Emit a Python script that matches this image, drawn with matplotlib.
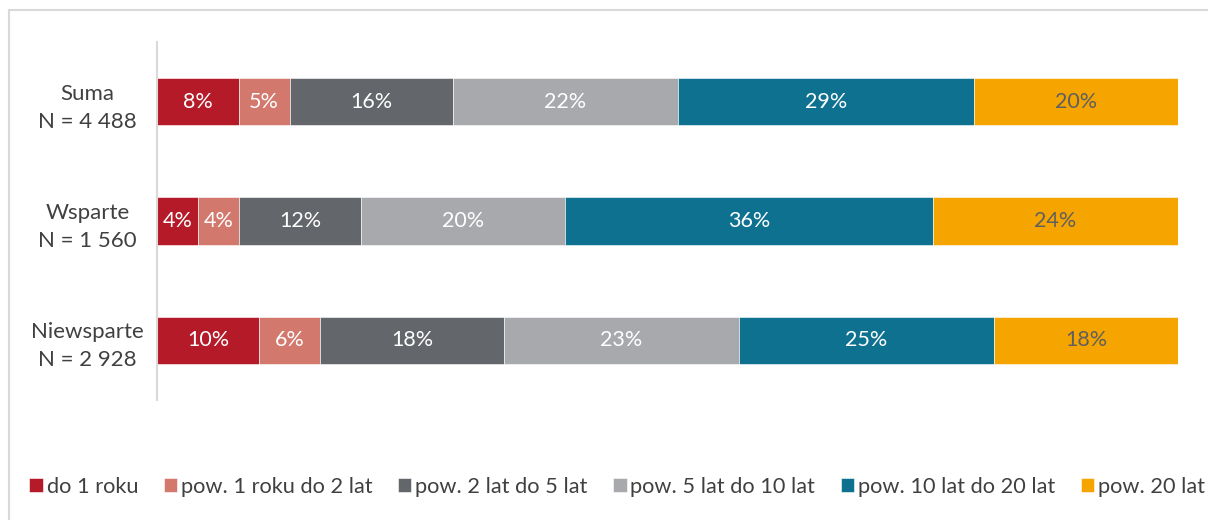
import matplotlib.pyplot as plt
import matplotlib.patches as mpatches
import numpy as np

plt.rcParams['font.family'] = ['Lato', 'DejaVu Sans']

groups = ['Suma\nN = 4 488', 'Wsparte\nN = 1 560', 'Niewsparte\nN = 2 928']
categories = ['do 1 roku', 'pow. 1 roku do 2 lat', 'pow. 2 lat do 5 lat',
              'pow. 5 lat do 10 lat', 'pow. 10 lat do 20 lat', 'pow. 20 lat']
values = np.array([
    [8, 5, 16, 22, 29, 20],
    [4, 4, 12, 20, 36, 24],
    [10, 6, 18, 23, 25, 18],
])
colors = ['#B41A28', '#D3786D', '#63666A', '#A7A9AC', '#0E7190', '#F6A500']
text_colors = ['white', 'white', 'white', 'white', 'white', '#5F5F5F']


def main():
    fig = plt.figure(figsize=(12.08, 5.2), dpi=100)
    ax = fig.add_axes([157 / 1208, 1 - 400 / 520, 1021 / 1208, 358 / 520])

    y = np.arange(len(groups))
    left = np.zeros(len(groups))
    for j, cat in enumerate(categories):
        bars = ax.barh(y, values[:, j], left=left, height=0.395, color=colors[j],
                       label=cat, edgecolor='white', linewidth=0.4)
        for k, b in enumerate(bars):
            ax.text(left[k] + values[k, j] / 2, y[k], f'{values[k, j]}%',
                    ha='center', va='center', fontsize=15.5, color=text_colors[j])
        left += values[:, j]

    ax.set_xlim(0, 100)
    ax.set_ylim(len(groups) - 0.5, -0.5)
    ax.set_yticks(y)
    ax.set_yticklabels(groups, fontsize=16, color='#404040', ha='center',
                       linespacing=1.5)
    ax.tick_params(axis='y', length=0, pad=50)
    ax.set_xticks([])
    for s in ['top', 'right', 'bottom']:
        ax.spines[s].set_visible(False)
    ax.spines['left'].set_color('#D9D9D9')
    ax.spines['left'].set_linewidth(1.5)

    # outer frame, only its top and left edges fall inside the image
    frame = mpatches.Rectangle((9 / 1208, -0.5), 1.5, 1 - 10 / 520 + 0.5,
                               transform=fig.transFigure, fill=False,
                               edgecolor='#D9D9D9', linewidth=1.5)
    fig.patches.append(frame)

    handles, labels = ax.get_legend_handles_labels()
    fig.legend(handles, labels, loc='center left', bbox_to_anchor=(14 / 1208, 1 - 487 / 520),
               ncol=6, frameon=False, fontsize=15.7, handlelength=0.62, handleheight=0.62,
               handletextpad=0.18, columnspacing=1.16, labelcolor='#404040',
               borderpad=0.2)

    fig.savefig('out.png', dpi=100)


if __name__ == '__main__':
    main()
